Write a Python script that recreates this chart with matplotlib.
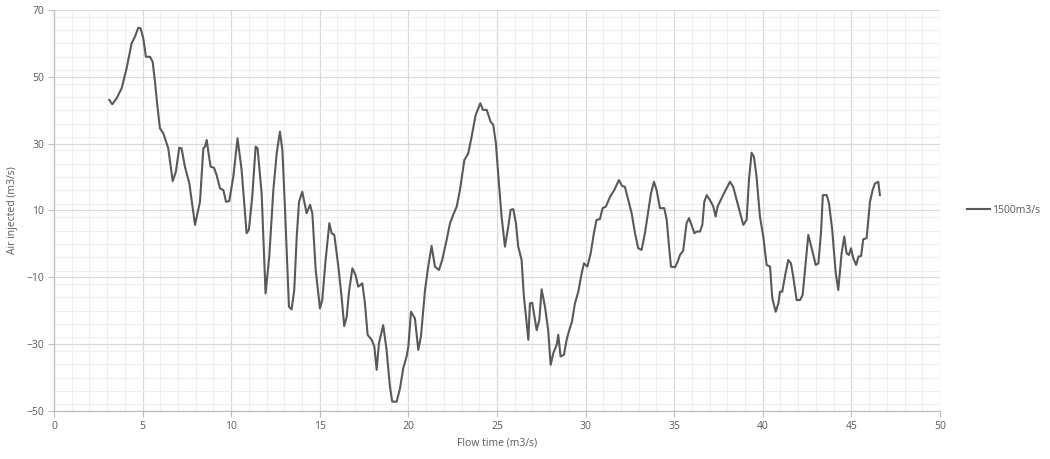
"""Air injected vs flow time line chart."""

import matplotlib

matplotlib.use("Agg")
import matplotlib.pyplot as plt
from matplotlib.ticker import MultipleLocator

# values
flow_time = [
    3.12, 3.29, 3.54, 3.82, 4.10, 4.38, 4.57, 4.76, 4.89, 5.04, 5.19, 5.42, 5.57,
    5.70, 5.83, 5.98, 6.17, 6.45, 6.70, 6.88, 7.07, 7.20, 7.39, 7.64, 7.96, 8.24,
    8.43, 8.52, 8.62, 8.71, 8.84, 9.03, 9.18, 9.37, 9.56, 9.71, 9.89, 10.12,
    10.36, 10.59, 10.87, 11.00, 11.19, 11.38, 11.49, 11.72, 11.94, 12.15, 12.38,
    12.57, 12.75, 12.89, 13.04, 13.26, 13.41, 13.56, 13.70, 13.83, 14.01, 14.26,
    14.45, 14.58, 14.77, 15.01, 15.14, 15.33, 15.54, 15.67, 15.82, 16.05, 16.23,
    16.38, 16.52, 16.65, 16.84, 17.02, 17.17, 17.40, 17.55, 17.70, 17.93, 18.08,
    18.21, 18.34, 18.58, 18.77, 18.96, 19.09, 19.34, 19.53, 19.71, 19.90, 20.00,
    20.15, 20.37, 20.56, 20.71, 20.94, 21.12, 21.31, 21.50, 21.73, 21.91, 22.16,
    22.35, 22.57, 22.73, 22.91, 23.16, 23.38, 23.57, 23.80, 24.06, 24.21, 24.42,
    24.64, 24.79, 24.94, 25.11, 25.26, 25.45, 25.64, 25.77, 25.92, 26.07, 26.20,
    26.39, 26.52, 26.64, 26.77, 26.86, 26.99, 27.24, 27.39, 27.52, 27.71, 27.89,
    28.03, 28.18, 28.37, 28.46, 28.59, 28.78, 28.93, 29.08, 29.23, 29.40, 29.59,
    29.78, 29.91, 30.10, 30.29, 30.47, 30.62, 30.81, 30.96, 31.15, 31.38, 31.62,
    31.88, 32.07, 32.22, 32.41, 32.60, 32.79, 32.97, 33.16, 33.35, 33.58, 33.69,
    33.86, 34.01, 34.20, 34.44, 34.58, 34.71, 34.82, 35.05, 35.20, 35.33, 35.51,
    35.70, 35.84, 35.98, 36.14, 36.27, 36.46, 36.59, 36.70, 36.84, 37.02, 37.21,
    37.34, 37.45, 37.67, 37.90, 38.15, 38.33, 38.53, 38.71, 38.90, 39.09, 39.22,
    39.37, 39.50, 39.65, 39.84, 40.03, 40.22, 40.41, 40.54, 40.73, 40.88, 40.97,
    41.10, 41.25, 41.44, 41.59, 41.72, 41.91, 42.10, 42.25, 42.42, 42.57, 42.76,
    42.99, 43.14, 43.29, 43.39, 43.61, 43.74, 43.92, 44.11, 44.26, 44.45, 44.60,
    44.73, 44.86, 44.98, 45.11, 45.27, 45.40, 45.55, 45.67, 45.86, 46.05, 46.20,
    46.33, 46.52, 46.61,
]
air_injected = [
    43.1, 41.8, 43.6, 46.6, 52.6, 60.0, 62.0, 64.7, 64.5, 61.5, 56.0, 56.0, 54.5,
    48.5, 41.6, 34.6, 33.1, 28.6, 18.8, 21.6, 28.8, 28.6, 23.1, 18.1, 5.7, 12.6,
    28.6, 29.1, 31.1, 27.6, 23.1, 22.8, 20.6, 16.6, 16.1, 12.6, 12.8, 20.1,
    31.6, 22.1, 3.2, 4.2, 14.1, 29.1, 28.6, 15.1, -14.8, -3.8, 16.1,
    27.1, 33.6, 28.1, 10.2, -18.8, -19.6, -13.8, 2.2, 12.6, 15.6, 9.2,
    11.7, 9.2, -7.8, -19.3, -16.8, -4.8, 6.2, 3.2, 2.7, -6.8, -15.8,
    -24.6, -21.8, -14.3, -7.3, -9.3, -12.8, -11.8, -17.8, -27.2, -28.7, -30.7,
    -37.7, -29.7, -24.3, -31.7, -42.7, -47.2, -47.2, -43.2, -37.2, -33.7, -30.7,
    -20.3, -22.3, -31.7, -27.7, -13.8, -6.8, -0.6, -6.8, -7.8, -4.8, 1.2,
    6.2, 9.2, 11.2, 16.1, 25.1, 27.1, 32.1, 38.6, 42.1, 40.1, 40.1,
    36.6, 35.6, 30.1, 18.1, 8.2, -0.8, 5.2, 10.2, 10.4, 6.2, -0.8,
    -4.8, -15.8, -21.8, -28.7, -17.8, -17.6, -25.8, -22.8, -13.6, -18.8, -25.8,
    -36.2, -32.7, -30.2, -27.2, -33.7, -33.2, -28.7, -25.8, -23.3, -17.8, -14.3,
    -8.8, -5.8, -6.8, -2.8, 3.2, 7.2, 7.4, 10.7, 11.2, 14.1, 16.1,
    19.1, 17.3, 17.1, 13.1, 9.2, 3.2, -1.3, -1.8, 3.2, 11.2, 15.1,
    18.6, 16.1, 10.7, 10.7, 7.2, -0.8, -6.8, -7.0, -5.3, -3.3, -2.0,
    6.2, 7.7, 5.7, 3.2, 3.7, 3.7, 5.7, 12.6, 14.6, 13.1, 11.2,
    8.2, 11.2, 13.6, 16.1, 18.6, 17.1, 13.1, 9.6, 5.7, 7.2, 19.1,
    27.3, 26.1, 20.1, 8.2, 2.2, -6.3, -6.8, -16.3, -20.3, -17.8, -14.3,
    -14.3, -9.8, -4.8, -5.8, -9.8, -16.8, -16.8, -15.3, -5.8, 2.7, -1.3,
    -6.3, -5.8, 3.7, 14.6, 14.6, 12.1, 4.2, -8.3, -13.8, -2.8, 2.2,
    -2.8, -3.3, -1.3, -4.3, -6.3, -3.8, -3.6, 1.4, 1.7, 12.6, 16.1,
    18.1, 18.6, 14.6,
]
series_label = "1500m3/s"
x_ticks = [0, 5, 10, 15, 20, 25, 30, 35, 40, 45, 50]
y_ticks = [-50, -30, -10, 10, 30, 50, 70]

plt.rcParams["font.family"] = ["Open Sans", "DejaVu Sans"]
text_color = "#595959"

fig = plt.figure(figsize=(10.5, 4.59), dpi=100)
ax = fig.add_axes([0.0514, 0.1046, 0.8438, 0.8736])

ax.plot(flow_time, air_injected, color="#595959", linewidth=1.5,
        solid_joinstyle="round", label=series_label)

ax.set_xlim(0, 50)
ax.set_ylim(-50, 70)
ax.set_xticks(x_ticks)
ax.set_yticks(y_ticks)
ax.xaxis.set_minor_locator(MultipleLocator(1))
ax.yaxis.set_minor_locator(MultipleLocator(4))

ax.grid(which="major", color="#d9d9d9", linewidth=0.9)
ax.grid(which="minor", color="#efefef", linewidth=0.8)
ax.set_axisbelow(True)

for side in ["top", "right"]:
    ax.spines[side].set_visible(False)
for side in ["left", "bottom"]:
    ax.spines[side].set_color("#bfbfbf")
    ax.spines[side].set_linewidth(0.9)

ax.tick_params(which="major", length=4, color="#bfbfbf", labelsize=7.5,
               labelcolor=text_color, pad=3)
ax.tick_params(which="minor", length=0)

ax.set_xlabel("Flow time (m3/s)", fontsize=7.5, color=text_color, labelpad=4)
ax.set_ylabel("Air injected (m3/s)", fontsize=7.5, color=text_color, labelpad=6)

ax.legend(loc="center left", bbox_to_anchor=(1.02, 0.5), frameon=False,
          fontsize=7.5, labelcolor=text_color, handlelength=2.2,
          handletextpad=0.2)

fig.savefig("out.png", dpi=100)
plt.close(fig)
